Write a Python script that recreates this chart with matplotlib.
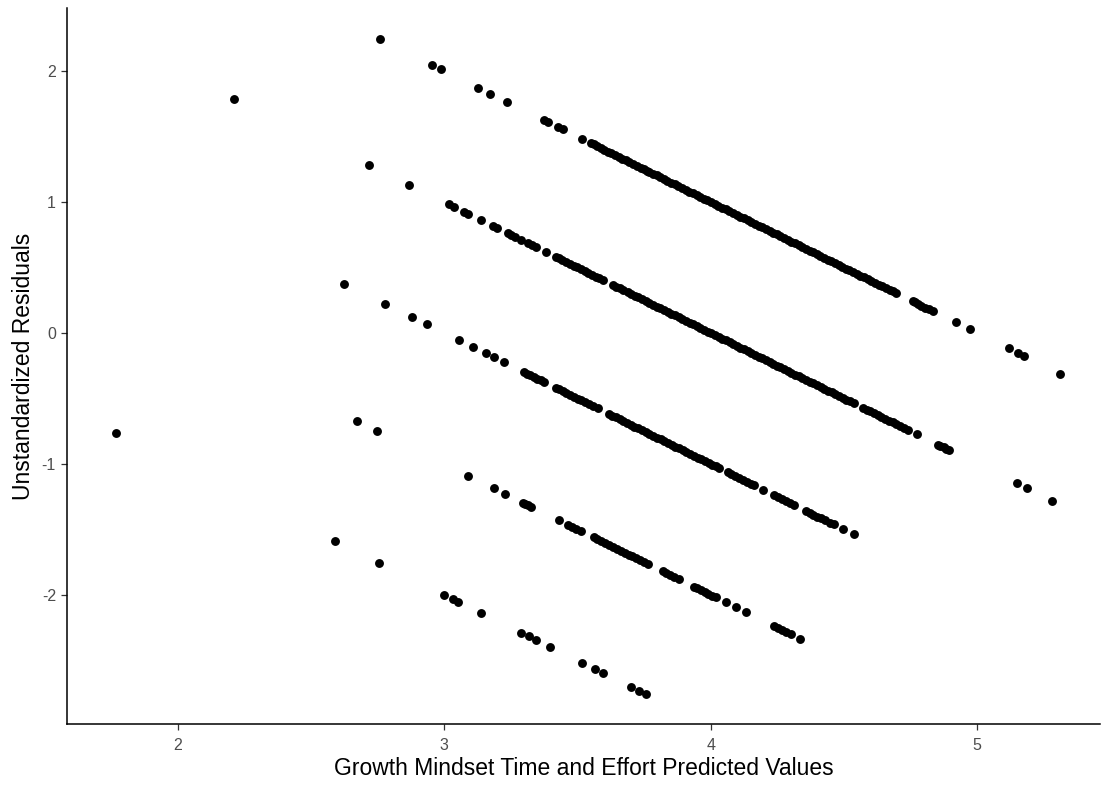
import numpy as np
import matplotlib
matplotlib.use("Agg")
import matplotlib.pyplot as plt

plt.rcParams['font.family'] = ['Liberation Sans', 'DejaVu Sans']
plt.rcParams['axes.unicode_minus'] = False

# predicted values grouped by the observed score of each respondent
pred_obs5 = [2.758, 2.953, 2.987, 3.126, 3.174, 3.235, 3.373, 3.388, 3.426, 3.445, 3.516,
             3.550, 3.561, 3.575, 3.588, 3.601, 3.616, 3.628, 3.641, 3.656, 3.668, 3.683,
             3.695, 3.709, 3.722, 3.737, 3.749, 3.761, 3.770,
             3.784, 3.797, 3.811, 3.825, 3.838, 3.853, 3.866, 3.879, 3.894, 3.906, 3.920,
             3.934, 3.947, 3.961, 3.975, 3.988, 4.002, 4.016, 4.029, 4.043, 4.057, 4.070,
             4.084, 4.098, 4.111, 4.125, 4.139, 4.152, 4.166, 4.180, 4.193, 4.207, 4.221,
             4.234, 4.248, 4.262, 4.275, 4.289, 4.303, 4.316, 4.330, 4.344, 4.357, 4.371,
             4.385, 4.398, 4.412, 4.426, 4.439, 4.453, 4.467, 4.480, 4.494, 4.508, 4.521,
             4.535, 4.549, 4.562, 4.576, 4.590, 4.603, 4.617, 4.631, 4.644, 4.658, 4.672,
             4.683, 4.694,
             4.758, 4.766, 4.779, 4.791, 4.806, 4.818, 4.833,
             4.919, 4.972, 5.118, 5.152, 5.174, 5.310]

pred_obs4 = [2.211, 2.717, 2.867, 3.017, 3.036, 3.073, 3.088, 3.137, 3.182, 3.197, 3.238,
             3.251, 3.266, 3.287, 3.313, 3.328, 3.343, 3.381,
             3.418, 3.431, 3.444, 3.459, 3.472, 3.486, 3.500, 3.513, 3.528, 3.541, 3.555,
             3.569, 3.582, 3.595,
             3.632, 3.646, 3.660, 3.673, 3.689, 3.702, 3.716, 3.729, 3.743, 3.757, 3.770,
             3.784, 3.798, 3.811, 3.825, 3.839, 3.852, 3.866, 3.880, 3.893, 3.907, 3.921,
             3.934, 3.948, 3.962, 3.975, 3.989, 4.003, 4.016, 4.030, 4.044, 4.057, 4.071,
             4.085, 4.098, 4.112, 4.126, 4.139, 4.153, 4.167, 4.180, 4.194, 4.208, 4.221,
             4.235, 4.249, 4.262, 4.276, 4.290, 4.303, 4.317, 4.331, 4.344, 4.358, 4.372,
             4.385, 4.399, 4.413, 4.426, 4.440, 4.454, 4.467, 4.481, 4.495, 4.509, 4.523,
             4.537,
             4.571, 4.585, 4.599, 4.613, 4.627, 4.641, 4.655, 4.669, 4.683, 4.697, 4.712,
             4.726, 4.740,
             4.773, 4.852, 4.862, 4.874, 4.885, 4.893,
             5.148, 5.186, 5.280]

pred_obs3 = [2.623, 2.777, 2.878, 2.934, 3.054, 3.107, 3.156, 3.186, 3.223,
             3.298, 3.311, 3.324, 3.337, 3.350, 3.362, 3.373,
             3.418, 3.431, 3.446, 3.459, 3.473, 3.488, 3.501, 3.515, 3.530, 3.544, 3.559,
             3.576,
             3.617, 3.631, 3.645, 3.659, 3.673, 3.687, 3.701, 3.714, 3.728, 3.742, 3.756,
             3.770, 3.784, 3.798, 3.812, 3.826, 3.840, 3.854, 3.868, 3.881, 3.895, 3.909,
             3.923, 3.937, 3.951, 3.965, 3.979, 3.993, 4.007, 4.019, 4.030,
             4.064, 4.078, 4.093, 4.107, 4.121, 4.136, 4.150, 4.161,
             4.195,
             4.236, 4.251, 4.266, 4.281, 4.296, 4.311,
             4.356, 4.371, 4.386, 4.401, 4.416, 4.431, 4.447, 4.462,
             4.495, 4.537]

pred_obs2 = [2.675, 2.747, 3.088, 3.186, 3.227, 3.295, 3.305, 3.316, 3.325, 3.430,
             3.463, 3.478, 3.495, 3.512,
             3.561, 3.575, 3.590, 3.604, 3.619, 3.633, 3.648, 3.663, 3.677, 3.692, 3.706,
             3.721, 3.735, 3.750, 3.764,
             3.820, 3.834, 3.849, 3.864, 3.880,
             3.936, 3.950, 3.964, 3.978, 3.992, 4.006, 4.019,
             4.056, 4.094, 4.131,
             4.236, 4.252, 4.268, 4.284, 4.300,
             4.334]

pred_obs1 = [1.767, 2.589, 2.754, 2.998, 3.032, 3.051, 3.137, 3.287, 3.317, 3.343,
             3.396, 3.516, 3.565, 3.595, 3.700, 3.730, 3.756]

observed = [5, 4, 3, 2, 1]
groups = [pred_obs5, pred_obs4, pred_obs3, pred_obs2, pred_obs1]

predicted = np.concatenate([np.array(g) for g in groups])
actual = np.concatenate([np.full(len(g), o, dtype=float) for g, o in zip(groups, observed)])
residuals = actual - predicted

fig = plt.figure(figsize=(11.02, 7.91), dpi=100)
ax = fig.add_axes([67 / 1102, 67 / 791, 1033 / 1102, 716 / 791])

ax.plot(predicted, residuals, 'o', color='black', ms=6.4, mew=0)

ax.set_xlim(1.585, 5.461)
ax.set_ylim(-2.985, 2.481)
ax.set_xticks([2, 3, 4, 5])
ax.set_yticks([-2, -1, 0, 1, 2])

for side in ['top', 'right']:
    ax.spines[side].set_visible(False)
for side in ['left', 'bottom']:
    ax.spines[side].set_linewidth(1.1)
    ax.spines[side].set_color('black')

ax.tick_params(axis='both', length=4, width=0.9, color='#333333',
               labelcolor='#4D4D4D', labelsize=11.5)
ax.tick_params(axis='x', pad=6)
ax.tick_params(axis='y', pad=4)

ax.set_xlabel('Growth Mindset Time and Effort Predicted Values', fontsize=16.5, labelpad=3)
ax.set_ylabel('Unstandardized Residuals', fontsize=16.5, labelpad=5)

fig.savefig('out.png', dpi=100)
